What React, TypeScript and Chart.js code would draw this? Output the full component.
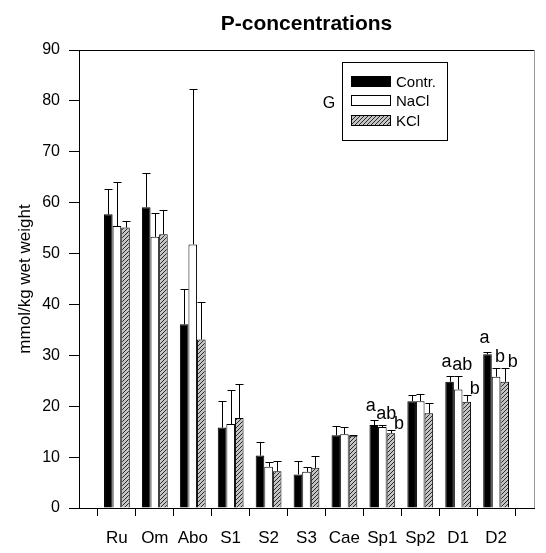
import React, { useEffect, useRef } from 'react';
import { Chart, registerables } from 'chart.js';

Chart.register(...registerables);

const FONT = '"Liberation Sans", Arial, Helvetica, sans-serif';

const titleText = 'P-concentrations';
const yTitle = 'mmol/kg wet weight';
const categories = ['Ru', 'Om', 'Abo', 'S1', 'S2', 'S3', 'Cae', 'Sp1', 'Sp2', 'D1', 'D2'];
const seriesNames = ['Contr.', 'NaCl', 'KCl'];

const contr = [57.7, 59.1, 36.1, 15.8, 10.3, 6.6, 14.3, 16.3, 21.0, 24.8, 30.2];
const contrErr = [4.9, 6.8, 6.9, 5.2, 2.6, 2.7, 1.8, 0.9, 1.3, 1.1, 0.5];
const nacl = [55.4, 53.3, 51.8, 16.5, 8.1, 7.1, 14.5, 15.9, 21.0, 23.3, 25.8];
const naclErr = [8.6, 4.7, 30.5, 6.7, 1.0, 1.0, 1.5, 0.5, 1.5, 2.6, 1.8];
const kcl = [55.1, 53.8, 33.1, 17.7, 7.2, 7.9, 14.2, 14.7, 18.6, 20.9, 24.8];
const kclErr = [1.3, 4.7, 7.4, 6.6, 2.1, 2.4, 0.2, 0.6, 2.1, 1.3, 2.8];

const sigContr = ['', '', '', '', '', '', '', 'a', '', 'a', 'a'];
const sigNacl = ['', '', '', '', '', '', '', 'ab', '', 'ab', 'b'];
const sigKcl = ['', '', '', '', '', '', '', 'b', '', 'b', 'b'];

const yTicks = [0, 10, 20, 30, 40, 50, 60, 70, 80, 90];

export default function App() {
  const ref = useRef<HTMLCanvasElement>(null);

  useEffect(() => {
    const canvas = ref.current!;
    const pc = document.createElement('canvas');
    pc.width = 4;
    pc.height = 4;
    const p = pc.getContext('2d')!;
    p.fillStyle = '#c4c4c4';
    p.fillRect(0, 0, 4, 4);
    p.strokeStyle = '#2a2a2a';
    p.lineWidth = 1;
    p.beginPath();
    p.moveTo(0, 4);
    p.lineTo(4, 0);
    p.moveTo(-1, 1);
    p.lineTo(1, -1);
    p.moveTo(3, 5);
    p.lineTo(5, 3);
    p.stroke();
    const pattern = canvas.getContext('2d')!.createPattern(pc, 'repeat')!;

    const pad = (a: any[]) => [null, ...a, null];
    const xLabels = ['', ...categories, ''];

    const datasets: any[] = [
      { label: seriesNames[0], data: pad(contr), err: contrErr, sig: sigContr, sigDx: -3, sigDy: 10,
        backgroundColor: '#000', borderColor: '#000', borderWidth: 1 },
      { label: seriesNames[1], data: pad(nacl), err: naclErr, sig: sigNacl, sigDx: 4, sigDy: 7,
        backgroundColor: '#fff', borderColor: '#000', borderWidth: 1 },
      { label: seriesNames[2], data: pad(kcl), err: kclErr, sig: sigKcl, sigDx: 8, sigDy: 2,
        backgroundColor: pattern, borderColor: '#000', borderWidth: 1 },
    ];

    const deco = {
      id: 'deco',
      afterDatasetsDraw(chart: any) {
        const ctx = chart.ctx;
        const ys = chart.scales.y;
        ctx.save();
        ctx.strokeStyle = '#000';
        ctx.lineWidth = 1;
        ctx.fillStyle = '#000';
        ctx.font = `18px ${FONT}`;
        ctx.textAlign = 'center';
        ctx.textBaseline = 'alphabetic';
        chart.data.datasets.forEach((ds: any, i: number) => {
          const meta = chart.getDatasetMeta(i);
          meta.data.forEach((el: any, j: number) => {
            const v = ds.data[j];
            if (v == null) return;
            const e = ds.err[j - 1];
            const top = Math.round(ys.getPixelForValue(v + e)) + 0.5;
            const x = Math.round(el.x) + 0.5;
            ctx.beginPath();
            ctx.moveTo(x, el.y);
            ctx.lineTo(x, top);
            ctx.moveTo(x - 4, top);
            ctx.lineTo(x + 4, top);
            ctx.stroke();
            const s = ds.sig[j - 1];
            if (s) ctx.fillText(s, el.x + ds.sigDx, top - ds.sigDy);
          });
        });
        ctx.restore();
      },
      afterDraw(chart: any) {
        const ctx = chart.ctx;
        const a = chart.chartArea;
        ctx.save();
        ctx.lineWidth = 1;
        ctx.strokeStyle = '#000';
        ctx.beginPath();
        ctx.moveTo(a.left, Math.round(a.top) + 0.5);
        ctx.lineTo(a.right, Math.round(a.top) + 0.5);
        ctx.stroke();
        ctx.strokeStyle = '#999';
        ctx.beginPath();
        ctx.moveTo(Math.round(a.right) + 0.5, a.top);
        ctx.lineTo(Math.round(a.right) + 0.5, a.bottom);
        ctx.stroke();
        ctx.fillStyle = '#000';
        ctx.font = `bold 21px ${FONT}`;
        ctx.textAlign = 'center';
        ctx.textBaseline = 'alphabetic';
        ctx.fillText(titleText, (a.left + a.right) / 2, 30);
        ctx.strokeStyle = '#000';
        ctx.strokeRect(342.5, 62.5, 105, 78);
        ctx.font = `15px ${FONT}`;
        ctx.textAlign = 'left';
        const bases = [87, 106, 126];
        chart.data.datasets.forEach((ds: any, i: number) => {
          const b = bases[i];
          ctx.fillStyle = ds.backgroundColor;
          ctx.fillRect(351, b - 11, 40, 11);
          ctx.strokeStyle = '#000';
          ctx.strokeRect(351.5, b - 10.5, 39, 10);
          ctx.fillStyle = '#000';
          ctx.fillText(ds.label, 396, b);
        });
        ctx.font = `16px ${FONT}`;
        ctx.textAlign = 'center';
        ctx.fillText('G', 329, 108);
        ctx.restore();
      },
    };

    const chart = new Chart(canvas, {
      type: 'bar',
      data: { labels: xLabels, datasets },
      options: {
        animation: false,
        responsive: false,
        devicePixelRatio: 1,
        layout: { padding: { left: 0, right: 6, top: 50, bottom: 0 } },
        datasets: { bar: { categoryPercentage: 0.68, barPercentage: 1 } },
        plugins: { legend: { display: false }, tooltip: { enabled: false }, title: { display: false } },
        scales: {
          x: {
            type: 'category',
            offset: false,
            grid: { drawOnChartArea: false, drawTicks: true, tickLength: 8, color: '#000' },
            border: { display: true, color: '#000', width: 1 },
            ticks: { autoSkip: false, maxRotation: 0, minRotation: 0, color: '#000', padding: 12,
              font: { family: FONT, size: 17 } },
            afterFit: (s: any) => { s.height = 45; },
          },
          y: {
            min: 0,
            max: 90,
            afterBuildTicks: (s: any) => { s.ticks = yTicks.map((v) => ({ value: v })); },
            grid: { drawOnChartArea: false, drawTicks: true, tickLength: 10, color: '#000' },
            border: { display: true, color: '#000', width: 1 },
            ticks: { color: '#000', padding: 9, font: { family: FONT, size: 16 } },
            title: { display: true, text: yTitle, color: '#000', font: { family: FONT, size: 17 },
              padding: { top: 15, bottom: 0 } },
            afterFit: (s: any) => { s.width = 79; },
          },
        },
      } as any,
      plugins: [deco],
    });
    return () => chart.destroy();
  }, []);

  return (
    <div style={{ position: 'absolute', left: 0, top: 0, width: 546, height: 553, background: '#fff' }}>
      <canvas ref={ref} width={546} height={553} style={{ width: 546, height: 553, display: 'block' }} />
    </div>
  );
}
